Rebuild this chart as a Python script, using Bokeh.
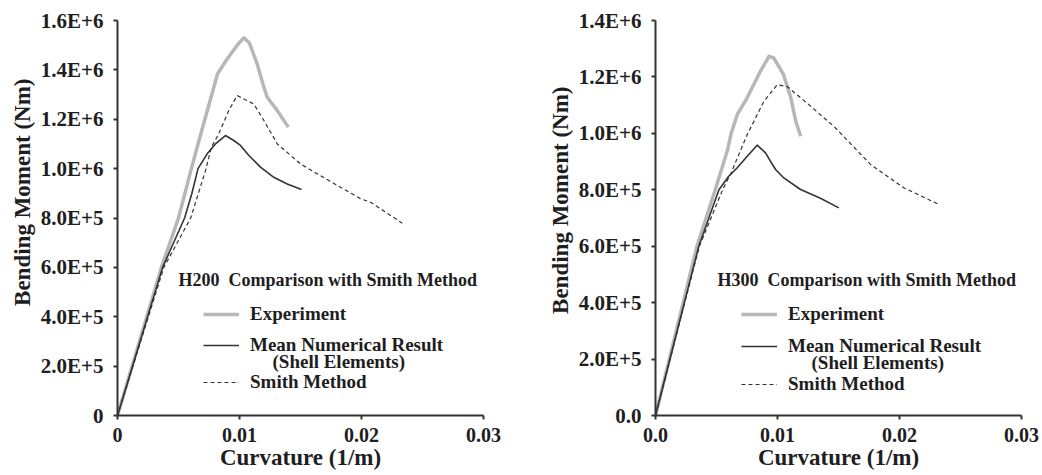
import math
from bokeh.plotting import figure
from bokeh.models import Range1d, FixedTicker, Label, Legend, LegendItem, Title
from bokeh.layouts import row
from bokeh.embed import file_html
from bokeh.resources import INLINE

FONT = "Liberation Serif"

# ---------------- data ----------------
x_ticks = [0, 0.01, 0.02, 0.03]
h200_x_labels = ["0", "0.01", "0.02", "0.03"]
h300_x_labels = ["0.0", "0.01", "0.02", "0.03"]

h200_y_ticks = [0, 2e5, 4e5, 6e5, 8e5, 1.0e6, 1.2e6, 1.4e6, 1.6e6]
h200_y_labels = ["0", "2.0E+5", "4.0E+5", "6.0E+5", "8.0E+5", "1.0E+6", "1.2E+6", "1.4E+6", "1.6E+6"]
h300_y_ticks = [0, 2e5, 4e5, 6e5, 8e5, 1.0e6, 1.2e6, 1.4e6]
h300_y_labels = ["0.0", "2.0E+5", "4.0E+5", "6.0E+5", "8.0E+5", "1.0E+6", "1.2E+6", "1.4E+6"]

# H200 (left)
h200_exp_x = [0, 0.0036, 0.0050, 0.0060, 0.0066, 0.0082, 0.0090, 0.0098, 0.01035, 0.0108, 0.01145, 0.0120, 0.01227, 0.0131, 0.0140]
h200_exp_y = [0, 0.60e6, 0.80e6, 0.99e6, 1.10e6, 1.384e6, 1.445e6, 1.499e6, 1.530e6, 1.51e6, 1.424e6, 1.330e6, 1.289e6, 1.235e6, 1.168e6]
h200_num_x = [0, 0.0037, 0.0055, 0.0061, 0.0066, 0.00735, 0.00803, 0.00885, 0.00953, 0.01008, 0.01077, 0.01172, 0.01281, 0.01391, 0.01508]
h200_num_y = [0, 0.60e6, 0.80e6, 0.90e6, 1.0e6, 1.060e6, 1.100e6, 1.134e6, 1.114e6, 1.094e6, 1.053e6, 1.006e6, 0.965e6, 0.938e6, 0.915e6]
h200_smith_x = [0, 0.0038, 0.0060, 0.0072, 0.0077, 0.0083, 0.00912, 0.00981, 0.01117, 0.0120, 0.0131, 0.0150, 0.01773, 0.01992, 0.02074, 0.02334]
h200_smith_y = [0, 0.60e6, 0.80e6, 0.99e6, 1.087e6, 1.141e6, 1.235e6, 1.296e6, 1.262e6, 1.195e6, 1.100e6, 1.019e6, 0.940e6, 0.878e6, 0.864e6, 0.779e6]

# H300 (right)
h300_exp_x = [0, 0.0034, 0.0049, 0.0059, 0.0062, 0.0067, 0.0075, 0.0086, 0.0093, 0.0097, 0.0105, 0.0111, 0.0115, 0.0119]
h300_exp_y = [0, 0.60e6, 0.80e6, 0.94e6, 1.0e6, 1.066e6, 1.125e6, 1.22e6, 1.273e6, 1.267e6, 1.208e6, 1.125e6, 1.043e6, 0.99e6]
h300_num_x = [0, 0.00355, 0.0052, 0.0060, 0.0067, 0.00752, 0.00833, 0.00902, 0.00943, 0.00984, 0.01052, 0.01189, 0.01352, 0.01503]
h300_num_y = [0, 0.60e6, 0.80e6, 0.848e6, 0.878e6, 0.919e6, 0.958e6, 0.931e6, 0.901e6, 0.872e6, 0.842e6, 0.801e6, 0.770e6, 0.736e6]
h300_smith_x = [0, 0.0036, 0.0055, 0.0062, 0.00752, 0.00888, 0.00997, 0.01079, 0.01243, 0.01461, 0.01516, 0.01762, 0.02035, 0.02322]
h300_smith_y = [0, 0.60e6, 0.80e6, 0.86e6, 0.996e6, 1.113e6, 1.172e6, 1.166e6, 1.107e6, 1.025e6, 1.001e6, 0.890e6, 0.807e6, 0.748e6]

legend_labels = ["Experiment", "Mean Numerical Result", "Smith Method"]
legend_sub = "(Shell Elements)"
x_title = "Curvature (1/m)"
y_title = "Bending Moment (Nm)"

EXP_COLOR = "#b7b7b7"
DARK = "#333333"
TEXT = "#1e1e1e"


def make_panel(title, xs, ys, y_ticks, y_labels, x_labels, y_max, border_left, border_right, layout):
    p = figure(width=521, height=475, output_backend="svg", toolbar_location=None,
               x_range=Range1d(0, 0.03), y_range=Range1d(0, y_max),
               min_border_left=border_left, min_border_right=border_right,
               min_border_top=20, min_border_bottom=60)
    p.outline_line_color = None
    p.xgrid.grid_line_color = None
    p.ygrid.grid_line_color = None
    p.background_fill_color = "white"
    p.border_fill_color = "white"

    for ax in (p.xaxis[0], p.yaxis[0]):
        ax.axis_line_color = DARK
        ax.axis_line_width = 2
        ax.major_tick_line_color = DARK
        ax.major_tick_line_width = 2
        ax.major_tick_in = 0
        ax.major_tick_out = 4
        ax.minor_tick_out = 0
        ax.minor_tick_in = 0
        ax.major_label_text_font = FONT
        ax.major_label_text_font_style = "bold"
        ax.major_label_text_color = TEXT
    p.xaxis.major_label_text_font_size = "20px"
    p.yaxis.major_label_text_font_size = "21px"
    p.xaxis.ticker = FixedTicker(ticks=x_ticks)
    p.xaxis.major_label_overrides = {t: l for t, l in zip(x_ticks, x_labels)}
    p.xaxis.major_label_standoff = 8
    p.xaxis.axis_label = x_title
    p.xaxis.axis_label_standoff = 0
    p.xaxis.axis_label_text_font = FONT
    p.xaxis.axis_label_text_font_style = "bold"
    p.xaxis.axis_label_text_font_size = "23px"
    p.xaxis.axis_label_text_color = TEXT
    p.yaxis.ticker = FixedTicker(ticks=y_ticks)
    p.yaxis.major_label_overrides = {t: l for t, l in zip(y_ticks, y_labels)}
    p.yaxis.major_label_standoff = 10

    # y axis title as a side title so it can sit above centre, as in the original
    p.add_layout(Title(text=y_title, align="right", offset=layout["yt_offset"],
                       text_font=FONT, text_font_style="bold", text_font_size="23px",
                       text_color=TEXT, standoff=6), "left")

    r_exp = p.line(xs[0], ys[0], line_color=EXP_COLOR, line_width=3.5, line_join="round")
    r_num = p.line(xs[1], ys[1], line_color=DARK, line_width=1.6, line_join="round")
    r_smith = p.line(xs[2], ys[2], line_color=DARK, line_width=1.2, line_dash="4 3")

    # annotation title inside plot
    p.add_layout(Label(x=layout["title"][0], y=layout["title"][1], x_units="screen", y_units="screen",
                       text=title, text_font=FONT, text_font_style="bold", text_font_size="18px",
                       text_color=TEXT, text_baseline="alphabetic"))

    for lab, r, loc in zip(legend_labels, [r_exp, r_num, r_smith], layout["legend"]):
        lg = Legend(items=[LegendItem(label=lab, renderers=[r])], location=loc,
                    glyph_width=36, glyph_height=20, label_height=20, label_standoff=11,
                    padding=0, margin=0, spacing=0,
                    border_line_color=None, background_fill_alpha=0,
                    label_text_font=FONT, label_text_font_style="bold",
                    label_text_font_size="19px", label_text_color=TEXT)
        p.add_layout(lg)

    p.add_layout(Label(x=layout["sub"][0], y=layout["sub"][1], x_units="screen", y_units="screen",
                       text=legend_sub, text_font=FONT, text_font_style="bold", text_font_size="19px",
                       text_color=TEXT, text_baseline="alphabetic"))
    return p


p1 = make_panel("H200\u00a0 Comparison with Smith Method",
                [h200_exp_x, h200_num_x, h200_smith_x],
                [h200_exp_y, h200_num_y, h200_smith_y],
                h200_y_ticks, h200_y_labels, h200_x_labels, 1.6e6, 117, 38,
                {"title": (61, 136), "legend": [(86, 90), (86, 59), (86, 22)],
                 "sub": (155, 54), "yt_offset": 58})

p2 = make_panel("H300\u00a0 Comparison with Smith Method",
                [h300_exp_x, h300_num_x, h300_smith_x],
                [h300_exp_y, h300_num_y, h300_smith_y],
                h300_y_ticks, h300_y_labels, h300_x_labels, 1.4e6, 134, 21,
                {"title": (62, 136), "legend": [(86, 90), (86, 58), (86, 20)],
                 "sub": (156, 53), "yt_offset": 66})

layout = row(p1, p2)
open("out.html", "w").write(file_html(layout, INLINE))
